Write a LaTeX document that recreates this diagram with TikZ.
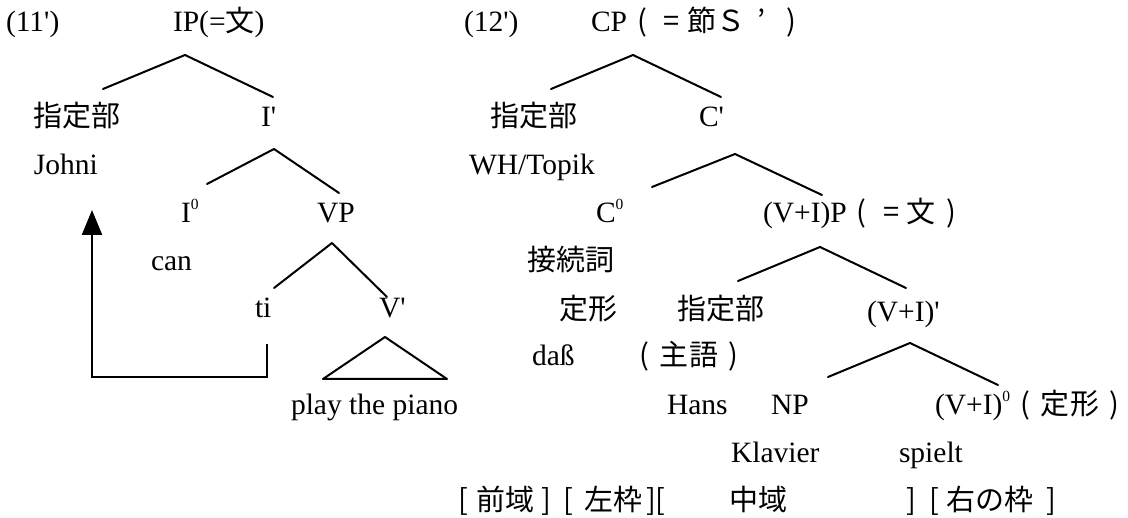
\documentclass[tikz,border=0pt]{standalone}
\usepackage{fontspec}
\setmainfont{Liberation Serif}[Ligatures=TeXOff]
\newfontfamily\cjk{Noto Sans CJK JP}
\usetikzlibrary{arrows.meta}
\newcommand\jp[1]{{\cjk\fontsize{29}{31}\selectfont #1}}
\newcommand\fw[1]{\makebox[29.8pt][c]{\jp{#1}}}
\newcommand\supz{\raisebox{13pt}{\fontsize{15.5}{15.5}\selectfont 0}}
\begin{document}
\begin{tikzpicture}[x=1pt,y=-1pt,
  lbl/.style={inner sep=0pt, outer sep=0pt, anchor=base west, font=\fontsize{29.5}{32}\selectfont},
  branch/.style={line width=2pt, line cap=round, line join=round},
  move/.style={line width=2.4pt, -{Triangle[width=20pt,length=25pt]}}]
\useasboundingbox (0,0) rectangle (1128,518);

% ---------- (11') ----------
\node[lbl] (t11) at (6,32) {(11')};
\node[lbl] (IP) at (173,32) {IP(=\jp{文})};
\node[lbl] (spec1) at (34,127) {\jp{指定部}};
\node[lbl] (Ibar) at (261,127) {I'};
\node[lbl] (John) at (34,175) {Johni};
\node[lbl] (I0) at (181,223) {I\supz};
\node[lbl] (VP) at (317,223) {VP};
\node[lbl] (can) at (151,271) {can};
\node[lbl] (ti) at (255,318) {ti};
\node[lbl] (Vbar) at (379,318) {V'};
\node[lbl] (piano) at (291,415) {play the piano};

\coordinate (a1) at (185,55);  \coordinate (a1l) at (103,89);  \coordinate (a1r) at (273,97);
\coordinate (a2) at (274,149); \coordinate (a2l) at (207,184); \coordinate (a2r) at (339,193);
\coordinate (a3) at (332,243); \coordinate (a3l) at (274,288); \coordinate (a3r) at (387,297);
\coordinate (tri) at (385,337); \coordinate (tril) at (323,379); \coordinate (trir) at (447,379);
\draw[branch] (a1l) -- (a1) -- (a1r);
\draw[branch] (a2l) -- (a2) -- (a2r);
\draw[branch] (a3l) -- (a3) -- (a3r);
\draw[branch] (tri) -- (tril) -- (trir) -- cycle;

\coordinate (mv0) at (267,344); \coordinate (mv1) at (267,377);
\coordinate (mv2) at (92,377);  \coordinate (mv3) at (92,210);
\draw[move] (mv0) -- (mv1) -- (mv2) -- (mv3);

% ---------- (12') ----------
\node[lbl] (t12) at (464,32) {(12')};
\node[lbl] (CP) at (591,32) {CP\fw{(}\fw{=}\fw{節}\fw{Ｓ}\fw{’}\fw{)}};
\node[lbl] (spec2) at (490,127) {\jp{指定部}};
\node[lbl] (Cbar) at (699,127) {C'};
\node[lbl] (WH) at (469,175) {WH/Topik};
\node[lbl] (C0) at (596,223) {C\supz};
\node[lbl] (VIP) at (763,223) {(V+I)P\fw{(}\fw{=}\fw{文}\fw{)}};
\node[lbl] (conj) at (527,271) {\jp{接続詞}};
\node[lbl] (fin) at (559,320) {\jp{定形}};
\node[lbl] (spec3) at (677,320) {\jp{指定部}};
\node[lbl] (VIbar) at (867,322) {(V+I)'};
\node[lbl] (dass) at (532,366) {daß};
\node[lbl] (subj) at (629,366) {\fw{(}\fw{主}\fw{語}\fw{)}};
\node[lbl] (Hans) at (667,415) {Hans};
\node[lbl] (NP) at (771,415) {NP};
\node[lbl] (VI0) at (935,415) {(V+I)\supz\fw{(}\fw{定}\fw{形}\fw{)}};
\node[lbl] (Klavier) at (731,463) {Klavier};
\node[lbl] (spielt) at (899,463) {spielt};

\coordinate (b1) at (633,55);  \coordinate (b1l) at (551,89);  \coordinate (b1r) at (721,97);
\coordinate (b2) at (735,154); \coordinate (b2l) at (652,187); \coordinate (b2r) at (822,195);
\coordinate (b3) at (820,247); \coordinate (b3l) at (738,281); \coordinate (b3r) at (906,288);
\coordinate (b4) at (910,343); \coordinate (b4l) at (828,377); \coordinate (b4r) at (998,385);
\draw[branch] (b1l) -- (b1) -- (b1r);
\draw[branch] (b2l) -- (b2) -- (b2r);
\draw[branch] (b3l) -- (b3) -- (b3r);
\draw[branch] (b4l) -- (b4) -- (b4r);

% ---------- field row ----------
\node[lbl] (br1) at (458,511) {\jp{[}};
\node[lbl] (w1) at (476,511) {\jp{前域}};
\node[lbl] (br2) at (541,511) {\jp{]}};
\node[lbl] (br3) at (563,511) {\jp{[}};
\node[lbl] (w2) at (584,511) {\jp{左枠}};
\node[lbl] (br4) at (646,511) {\jp{][}};
\node[lbl] (w3) at (729,511) {\jp{中域}};
\node[lbl] (br5) at (906,511) {\jp{]}};
\node[lbl] (br6) at (929,511) {\jp{[}};
\node[lbl] (w4) at (946,511) {\jp{右の枠}};
\node[lbl] (br7) at (1046,511) {\jp{]}};
\end{tikzpicture}
\end{document}
